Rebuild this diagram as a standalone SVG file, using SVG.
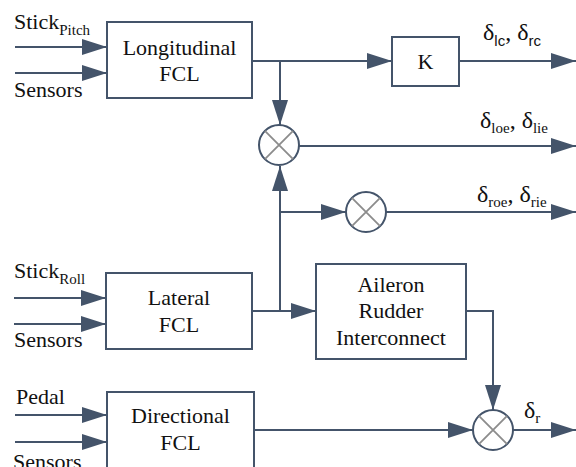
<svg xmlns="http://www.w3.org/2000/svg" width="576" height="467" viewBox="0 0 576 467">
<style>
.box{fill:#fff;stroke:#44546A;stroke-width:2}
.sum{fill:#fff;stroke:#44546A;stroke-width:2}
.x{stroke:#8C8C8C;stroke-width:1.8}
.ln{fill:none;stroke:#44546A;stroke-width:2}
.t{font-family:'Liberation Serif','Times New Roman',serif;font-size:22px;fill:#111}
.c{text-anchor:middle}
.d{font-size:24px}
.sub{font-size:15px}
.ss{font-family:'Liberation Sans',Arial,sans-serif;font-size:15px}
</style>
<defs>
<marker id="ah" viewBox="0 0 25 16" refX="25" refY="8" markerWidth="25" markerHeight="16" orient="auto" markerUnits="userSpaceOnUse">
<path d="M0,0 L25,8 L0,16 z" fill="#44546A"/>
</marker>
</defs>
<rect width="576" height="467" fill="#fff"/>
<g id="connectors">
<path class="ln" d="M15,47 H107" marker-end="url(#ah)"/>
<path class="ln" d="M15,73 H107" marker-end="url(#ah)"/>
<path class="ln" d="M252,61 H392" marker-end="url(#ah)"/>
<path class="ln" d="M280,61 V125" marker-end="url(#ah)"/>
<path class="ln" d="M459,61 H576" marker-end="url(#ah)"/>
<path class="ln" d="M299,146 H576" marker-end="url(#ah)"/>
<path class="ln" d="M14,298 H106" marker-end="url(#ah)"/>
<path class="ln" d="M14,324 H106" marker-end="url(#ah)"/>
<path class="ln" d="M252,311 H316" marker-end="url(#ah)"/>
<path class="ln" d="M280,311 V166" marker-end="url(#ah)"/>
<path class="ln" d="M280,212 H346" marker-end="url(#ah)"/>
<path class="ln" d="M386,212 H576" marker-end="url(#ah)"/>
<path class="ln" d="M466,311 H493 V410" marker-end="url(#ah)"/>
<path class="ln" d="M15,415 H107" marker-end="url(#ah)"/>
<path class="ln" d="M15,442 H107" marker-end="url(#ah)"/>
<path class="ln" d="M254,430 H473" marker-end="url(#ah)"/>
<path class="ln" d="M513,430 H576" marker-end="url(#ah)"/>
</g>
<g id="longitudinal">
<rect class="box" x="107" y="22" width="145" height="76"/>
<text class="t c" x="179.5" y="55">Longitudinal</text>
<text class="t c" x="179.5" y="81">FCL</text>
</g>
<g id="k">
<rect class="box" x="392" y="37" width="67" height="49"/>
<text class="t c" x="425.5" y="69">K</text>
</g>
<g id="lateral">
<rect class="box" x="106" y="273" width="146" height="76"/>
<text class="t c" x="179" y="305">Lateral</text>
<text class="t c" x="179" y="332">FCL</text>
</g>
<g id="aileron">
<rect class="box" x="316" y="264" width="150" height="95"/>
<text class="t c" x="391" y="292">Aileron</text>
<text class="t c" x="391" y="318">Rudder</text>
<text class="t c" x="391" y="345">Interconnect</text>
</g>
<g id="directional">
<rect class="box" x="107" y="392" width="147" height="90"/>
<text class="t c" x="180.5" y="423">Directional</text>
<text class="t c" x="180.5" y="450">FCL</text>
</g>
<g id="sum1">
<circle class="sum" cx="279" cy="145" r="20"/>
<path class="x" d="M264.9,130.9 L293.1,159.1 M293.1,130.9 L264.9,159.1"/>
</g>
<g id="sum2">
<circle class="sum" cx="366" cy="212" r="20"/>
<path class="x" d="M351.9,197.9 L380.1,226.1 M380.1,197.9 L351.9,226.1"/>
</g>
<g id="sum3">
<circle class="sum" cx="493" cy="430" r="20"/>
<path class="x" d="M478.9,415.9 L507.1,444.1 M507.1,415.9 L478.9,444.1"/>
</g>
<g id="labels">
<text class="t" x="14" y="29">Stick<tspan class="sub" dy="6">Pitch</tspan></text>
<text class="t" x="14" y="97">Sensors</text>
<text class="t" x="14" y="278">Stick<tspan class="sub" dy="6">Roll</tspan></text>
<text class="t" x="14" y="347">Sensors</text>
<text class="t" x="16" y="404">Pedal</text>
<text class="t" x="13" y="469">Sensors</text>
<text class="t d" x="483" y="40">δ<tspan class="ss" dy="6">lc</tspan><tspan dy="-6">, δ</tspan><tspan class="ss" dy="6">rc</tspan></text>
<text class="t d" x="480" y="128">δ<tspan class="sub" dy="5">loe</tspan><tspan dy="-5">, δ</tspan><tspan class="sub" dy="5">lie</tspan></text>
<text class="t d" x="477" y="202">δ<tspan class="sub" dy="5">roe</tspan><tspan dy="-5">, δ</tspan><tspan class="sub" dy="5">rie</tspan></text>
<text class="t d" x="524" y="418">δ<tspan class="sub" dy="5">r</tspan></text>
</g>
</svg>
